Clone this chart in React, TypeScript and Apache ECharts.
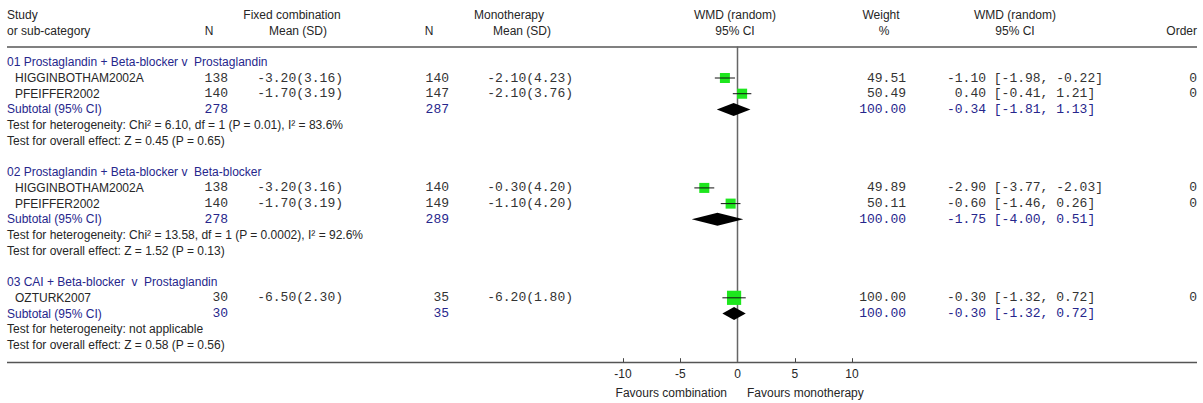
import React, { useEffect, useRef } from "react";
import * as echarts from "echarts";

// ---------- data ----------
const groupTitles = [
  "01 Prostaglandin + Beta-blocker v\u00a0\u00a0Prostaglandin",
  "02 Prostaglandin + Beta-blocker v\u00a0\u00a0Beta-blocker",
  "03 CAI + Beta-blocker\u00a0\u00a0v\u00a0\u00a0Prostaglandin",
];
const studyGroup = [0, 0, 1, 1, 2];
const studyNames = ["HIGGINBOTHAM2002A", "PFEIFFER2002", "HIGGINBOTHAM2002A", "PFEIFFER2002", "OZTURK2007"];
const nComb = [138, 140, 138, 140, 30];
const meanComb = [-3.2, -1.7, -3.2, -1.7, -6.5];
const sdComb = [3.16, 3.19, 3.16, 3.19, 2.3];
const nMono = [140, 147, 140, 149, 35];
const meanMono = [-2.1, -2.1, -0.3, -1.1, -6.2];
const sdMono = [4.23, 3.76, 4.2, 4.2, 1.8];
const weight = [49.51, 50.49, 49.89, 50.11, 100.0];
const wmd = [-1.1, 0.4, -2.9, -0.6, -0.3];
const ciLow = [-1.98, -0.41, -3.77, -1.46, -1.32];
const ciHigh = [-0.22, 1.21, -2.03, 0.26, 0.72];
const orderVals = [0, 0, 0, 0, 0];

const subNComb = [278, 278, 30];
const subNMono = [287, 289, 35];
const subWeight = [100.0, 100.0, 100.0];
const subWmd = [-0.34, -1.75, -0.3];
const subLow = [-1.81, -4.0, -1.32];
const subHigh = [1.13, 0.51, 0.72];

const hetTexts = [
  "Test for heterogeneity: Chi\u00b2 = 6.10, df = 1 (P = 0.01), I\u00b2 = 83.6%",
  "Test for heterogeneity: Chi\u00b2 = 13.58, df = 1 (P = 0.0002), I\u00b2 = 92.6%",
  "Test for heterogeneity: not applicable",
];
const overallTexts = [
  "Test for overall effect: Z = 0.45 (P = 0.65)",
  "Test for overall effect: Z = 1.52 (P = 0.13)",
  "Test for overall effect: Z = 0.58 (P = 0.56)",
];
const xTicks = [-10, -5, 0, 5, 10];
const favourLeft = "Favours combination";
const favourRight = "Favours monotherapy";

// ---------- styling ----------
const SANS = "12px 'Liberation Sans', Arial, sans-serif";
const MONO = "13px 'Liberation Mono', 'Courier New', monospace";
const DARK = "#262626";
const MONOCOL = "#333";
const BLUE = "#26268c";
const GREEN = "#1ee61e";

type Row = { slot: number; kind: string; i: number };

function buildRows(): Row[] {
  const rows: Row[] = [];
  rows.push({ slot: -3, kind: "head1", i: 0 });
  rows.push({ slot: -2, kind: "head2", i: 0 });
  let slot = 0;
  for (let g = 0; g < groupTitles.length; g++) {
    rows.push({ slot: slot++, kind: "group", i: g });
    studyNames.forEach((_, s) => {
      if (studyGroup[s] === g) rows.push({ slot: slot++, kind: "study", i: s });
    });
    rows.push({ slot: slot++, kind: "sub", i: g });
    rows.push({ slot: slot++, kind: "het", i: g });
    rows.push({ slot: slot++, kind: "overall", i: g });
    slot++;
  }
  return rows;
}

const fmt = (v: number) => v.toFixed(2);
const pad5 = (v: number) => {
  const s = fmt(v);
  return s.length < 5 ? "\u00a0".repeat(5 - s.length) + s : s;
};
const ciText = (e: number, lo: number, hi: number) => `${pad5(e)}\u00a0[${fmt(lo)},\u00a0${fmt(hi)}]`;

function txt(x: number, y: number, text: string, align: string, mono: boolean, color: string) {
  return {
    type: "text",
    x,
    y,
    silent: true,
    style: {
      text,
      fill: color,
      font: mono ? MONO : SANS,
      textAlign: align,
      textVerticalAlign: "middle",
      align,
      verticalAlign: "middle",
    },
  };
}

export default function App() {
  const ref = useRef<HTMLDivElement>(null);
  useEffect(() => {
    if (!ref.current) return;
    const chart = echarts.init(ref.current, undefined, { renderer: "svg" });
    const rows = buildRows();

    const forest: { est: number; lo: number; hi: number; w: number; slot: number; kind: string }[] = [];
    rows.forEach((r) => {
      if (r.kind === "study")
        forest.push({ est: wmd[r.i], lo: ciLow[r.i], hi: ciHigh[r.i], w: weight[r.i], slot: r.slot, kind: "study" });
      if (r.kind === "sub")
        forest.push({ est: subWmd[r.i], lo: subLow[r.i], hi: subHigh[r.i], w: subWeight[r.i], slot: r.slot, kind: "sub" });
    });

    const tableRender = (params: any, api: any) => {
      const r = rows[params.dataIndex];
      const y = api.coord([0, r.slot])[1];
      const c: any[] = [];
      const i = r.i;
      if (r.kind === "head1") {
        c.push(txt(7, y, "Study", "left", false, DARK));
        c.push(txt(292, y, "Fixed combination", "center", false, DARK));
        c.push(txt(509, y, "Monotherapy", "center", false, DARK));
        c.push(txt(735, y, "WMD (random)", "center", false, DARK));
        c.push(txt(881, y, "Weight", "center", false, DARK));
        c.push(txt(1015, y, "WMD (random)", "center", false, DARK));
      } else if (r.kind === "head2") {
        c.push(txt(7, y, "or sub-category", "left", false, DARK));
        c.push(txt(209, y, "N", "center", false, DARK));
        c.push(txt(298, y, "Mean (SD)", "center", false, DARK));
        c.push(txt(429, y, "N", "center", false, DARK));
        c.push(txt(522, y, "Mean (SD)", "center", false, DARK));
        c.push(txt(735, y, "95% CI", "center", false, DARK));
        c.push(txt(884, y, "%", "center", false, DARK));
        c.push(txt(1015, y, "95% CI", "center", false, DARK));
        c.push(txt(1197, y, "Order", "right", false, DARK));
      } else if (r.kind === "group") {
        c.push(txt(7, y, groupTitles[i], "left", false, BLUE));
      } else if (r.kind === "study") {
        c.push(txt(15, y, studyNames[i], "left", false, DARK));
        c.push(txt(228, y, String(nComb[i]), "right", true, MONOCOL));
        c.push(txt(343, y, `${fmt(meanComb[i])}(${fmt(sdComb[i])})`, "right", true, MONOCOL));
        c.push(txt(449, y, String(nMono[i]), "right", true, MONOCOL));
        c.push(txt(573, y, `${fmt(meanMono[i])}(${fmt(sdMono[i])})`, "right", true, MONOCOL));
        c.push(txt(906, y, fmt(weight[i]), "right", true, MONOCOL));
        c.push(txt(947, y, ciText(wmd[i], ciLow[i], ciHigh[i]), "left", true, MONOCOL));
        c.push(txt(1197, y, String(orderVals[i]), "right", true, MONOCOL));
      } else if (r.kind === "sub") {
        c.push(txt(7, y, "Subtotal (95% CI)", "left", false, BLUE));
        c.push(txt(228, y, String(subNComb[i]), "right", true, BLUE));
        c.push(txt(449, y, String(subNMono[i]), "right", true, BLUE));
        c.push(txt(906, y, fmt(subWeight[i]), "right", true, BLUE));
        c.push(txt(947, y, ciText(subWmd[i], subLow[i], subHigh[i]), "left", true, BLUE));
      } else if (r.kind === "het") {
        c.push(txt(7, y, hetTexts[i], "left", false, DARK));
      } else if (r.kind === "overall") {
        c.push(txt(7, y, overallTexts[i], "left", false, DARK));
      }
      return { type: "group", children: c };
    };

    const forestRender = (params: any, api: any) => {
      const d = forest[params.dataIndex];
      const cpt = api.coord([d.est, d.slot]);
      const l = api.coord([d.lo, d.slot]);
      const h = api.coord([d.hi, d.slot]);
      const y = cpt[1];
      if (d.kind === "sub") {
        return {
          type: "polygon",
          shape: { points: [[l[0], y], [cpt[0], y - 6.5], [h[0], y], [cpt[0], y + 6.5]] },
          style: { fill: "#000" },
        };
      }
      const s = 14.2 * Math.sqrt(d.w / 100);
      return {
        type: "group",
        children: [
          { type: "rect", shape: { x: cpt[0] - s / 2, y: y - s / 2, width: s, height: s }, style: { fill: GREEN } },
          { type: "line", shape: { x1: l[0], y1: y, x2: h[0], y2: y }, style: { stroke: "#111", lineWidth: 1 } },
        ],
      };
    };

    chart.setOption({
      animation: false,
      grid: { left: 623, top: 46.6, width: 229, height: 315.6, containLabel: false },
      xAxis: {
        type: "value",
        position: "bottom",
        min: -10,
        max: 10,
        interval: 5,
        axisLine: { show: false, onZero: false },
        axisTick: { show: true, inside: true, length: 4, lineStyle: { color: "#444", width: 1 } },
        axisLabel: {
          show: true,
          margin: 6,
          color: DARK,
          fontSize: 12,
          fontFamily: "'Liberation Sans', Arial, sans-serif",
        },
        splitLine: { show: false },
      },
      yAxis: { type: "value", inverse: true, min: -1, max: 19.1, show: false },
      graphic: [
        { type: "line", shape: { x1: 7, y1: 47, x2: 1197, y2: 47 }, style: { stroke: "#808080", lineWidth: 2 } },
        { type: "line", shape: { x1: 7, y1: 362.5, x2: 1197, y2: 362.5 }, style: { stroke: "#555", lineWidth: 1.5 } },
        {
          type: "text",
          x: 727,
          y: 393,
          style: { text: favourLeft, fill: DARK, font: SANS, textAlign: "right", textVerticalAlign: "middle", align: "right", verticalAlign: "middle" },
        },
        {
          type: "text",
          x: 747,
          y: 393,
          style: { text: favourRight, fill: DARK, font: SANS, textAlign: "left", textVerticalAlign: "middle", align: "left", verticalAlign: "middle" },
        },
      ],
      series: [
        {
          type: "line",
          data: [
            [0, -1],
            [0, 19.1],
          ],
          showSymbol: false,
          symbol: "none",
          lineStyle: { color: "#666", width: 1.5 },
          silent: true,
          z: 1,
        },
        {
          type: "custom",
          renderItem: forestRender,
          data: forest.map((d) => [d.est, d.slot]),
          encode: { x: 0, y: 1 },
          clip: false,
          silent: true,
          z: 3,
        },
        {
          type: "custom",
          renderItem: tableRender,
          data: rows.map((r) => [0, r.slot]),
          encode: { x: 0, y: 1 },
          clip: false,
          silent: true,
          z: 4,
        },
      ],
    });
    return () => chart.dispose();
  }, []);
  return <div ref={ref} style={{ position: "absolute", left: 0, top: 0, width: 1203, height: 403, background: "#fff" }} />;
}
